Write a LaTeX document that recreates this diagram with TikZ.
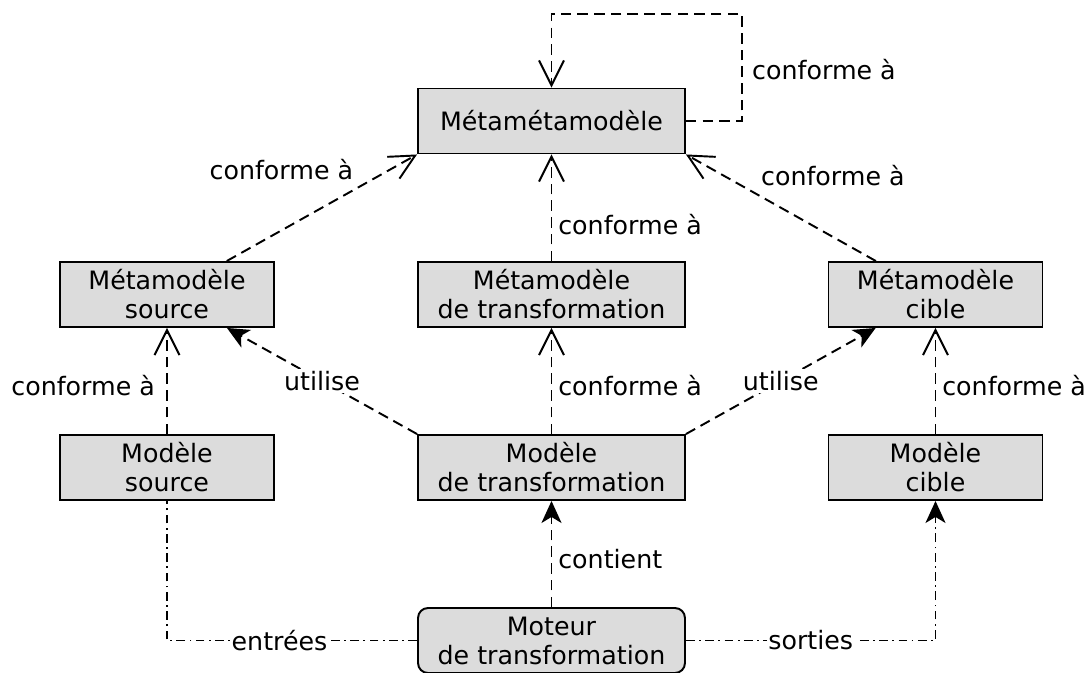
\documentclass[tikz,border=0pt]{standalone}
\usepackage{fontspec}
\setmainfont{DejaVu Sans}
\usepackage{tikz}
\usetikzlibrary{positioning, arrows.meta, calc}

\tikzset{
  modele/.style={draw, line width=1.1pt, fill={rgb,255:red,220;green,220;blue,220},
    minimum width=5.34cm, minimum height=1.3cm, align=center, inner sep=2pt},
  petit/.style={modele, minimum width=4.28cm},
  moteurbox/.style={modele, rounded corners=0.2cm},
  conf/.style={line width=1.1pt, dash pattern=on 6pt off 3.5pt, -{Straight Barb[length=5mm,width=5mm,line width=1.1pt]}},
  uses/.style={line width=1.1pt, dash pattern=on 6pt off 3.5pt, -{Stealth[length=4.4mm,width=4mm,inset=1.2mm]}},
  io/.style={line width=1pt, dash pattern=on 5pt off 2.5pt on 1pt off 2.5pt},
  lbl/.style={fill=white, inner sep=1pt}
}

\begin{document}
\begin{tikzpicture}[x=0.02cm, y=-0.02cm, font=\fontsize{14.4}{16.5}\selectfont]
  \useasboundingbox (0,0) rectangle (1090,673);

  % Boxes
  \node[modele] (meta3) at (551.5,121) {Métamétamodèle};
  \node[petit] (metasrc) at (167,294.5) {Métamodèle\\source};
  \node[modele] (metatrans) at (551.5,294.5) {Métamodèle\\de transformation};
  \node[petit] (metacible) at (935.5,294.5) {Métamodèle\\cible};
  \node[petit] (modsrc) at (167,467.5) {Modèle\\source};
  \node[modele] (modtrans) at (551.5,467.5) {Modèle\\de transformation};
  \node[petit] (modcible) at (935.5,467.5) {Modèle\\cible};
  \node[moteurbox] (moteur) at (551.5,640.5) {Moteur\\de transformation};

  % conformity links
  \coordinate (boucle) at (742,14);
  \draw[conf] (meta3.east) -| (boucle) -| (meta3.north);
  \node[right] (lboucle) at (746,70) {conforme à};
  \draw[conf] (metasrc) -- node[pos=0.7, above left] {conforme à} (meta3.south west);
  \draw[conf] (metacible) -- node[pos=0.64, above right] {conforme à} (meta3.south east);
  \draw[conf] (metatrans) -- node[pos=0.34, right] {conforme à} (meta3);
  \draw[conf] (modsrc) -- node[pos=0.46, left, xshift=-3pt] {conforme à} (metasrc);
  \draw[conf] (modtrans) -- node[pos=0.46, right] {conforme à} (metatrans);
  \draw[conf] (modcible) -- node[pos=0.46, right] {conforme à} (metacible);

  % usage links
  \draw[uses] (modtrans.north west) -- node[lbl] {utilise} (metasrc);
  \draw[uses] (modtrans.north east) -- node[lbl] {utilise} (metacible);
  \draw[uses] (moteur) -- node[pos=0.45, right] {contient} (modtrans);

  % inputs / outputs
  \draw[io] (moteur.west) -- node[lbl, pos=0.55] {entrées} (modsrc |- moteur.west) -- (modsrc.south);
  \draw[io, -{Stealth[length=4.4mm,width=4mm,inset=1.2mm]}] (moteur.east) -- node[lbl] {sorties} (modcible |- moteur.east) -- (modcible.south);
\end{tikzpicture}
\end{document}
